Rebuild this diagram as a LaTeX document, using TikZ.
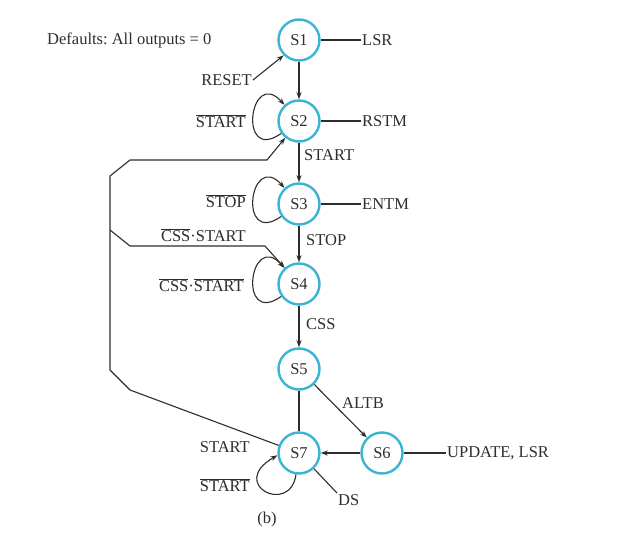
\documentclass[tikz,border=0pt]{standalone}
\usepackage{fontspec}
\setmainfont{Liberation Serif}
\usetikzlibrary{arrows.meta}
\definecolor{stcyan}{RGB}{58,180,212}
\definecolor{ink}{RGB}{45,45,45}
\frenchspacing

\begin{document}
\begin{tikzpicture}[x=1pt,y=1pt,font=\fontsize{16.5}{19}\selectfont,color=ink,
    stcircle/.style={circle,draw=stcyan,line width=2.4pt,minimum size=41pt,inner sep=0pt,text=ink},
    lbl/.style={inner sep=1pt},
    tr/.style={line width=1.1pt,line join=round,-{Stealth[length=7pt,width=5pt]}},
    ln/.style={line width=1.1pt,line join=round}]
    \useasboundingbox (0,0) rectangle (628,542);

    % Define states
    \node[stcircle] (S1) at (299,502) {S1};
    \node[stcircle] (S2) at (299,421) {S2};
    \node[stcircle] (S3) at (299,338) {S3};
    \node[stcircle] (S4) at (299,258) {S4};
    \node[stcircle] (S5) at (299,173) {S5};
    \node[stcircle] (S7) at (299,89) {S7};
    \node[stcircle] (S6) at (382,89) {S6};

    % Add outputs
    \node[lbl,anchor=west] at (46,502) {Defaults: All outputs = 0};
    \node[lbl,anchor=west] (LSR) at (361,502) {LSR};
    \node[lbl,anchor=west] (RSTM) at (361,421) {RSTM};
    \node[lbl,anchor=west] (ENTM) at (361,338) {ENTM};
    \node[lbl,anchor=west] (UPD) at (446,89) {UPDATE, LSR};
    \node[lbl,anchor=north west] (DS) at (337,49) {DS};
    \draw[ln] (S1) -- (LSR);
    \draw[ln] (S2) -- (RSTM);
    \draw[ln] (S3) -- (ENTM);
    \draw[ln] (S6) -- (UPD);
    \draw[ln] (S7) -- (DS.north west);

    % Draw transitions
    \node[lbl,anchor=east] (RESET) at (253,462) {RESET};
    \draw[tr] (RESET.east) -- (S1.225);
    \draw[tr] (S1) -- (S2);
    \draw[tr] (S2) -- (S3);
    \draw[tr] (S3) -- (S4);
    \draw[tr] (S4) -- (S5);
    \draw[tr] (S5) -- (S6);
    \draw[tr] (S6) -- (S7);
    \draw[ln] (S5) -- (S7);

    % Draw self loops
    \draw[tr] (S2.215) .. controls +(215:54) and +(132:52) .. (S2.132);
    \draw[tr] (S3.215) .. controls +(215:54) and +(132:52) .. (S3.132);
    \draw[tr] (S4.215) .. controls +(215:54) and +(132:52) .. (S4.132);
    \draw[tr] (S7.262) .. controls +(262:42) and +(210:58) .. (S7.186);

    % Draw return paths
    \coordinate (b1) at (130,152); \coordinate (b2) at (110,172); \coordinate (b3) at (110,312); \coordinate (b4) at (110,366);
    \coordinate (b5) at (130,382); \coordinate (b6) at (267,382); \coordinate (b7) at (130,296); \coordinate (b8) at (265,296);
    \draw[tr] (S7) -- (b1) -- (b2) -- (b4) -- (b5) -- (b6) -- (S2);
    \draw[tr] (b3) -- (b7) -- (b8) -- (S4);

    % Add transition labels
    \node[lbl,anchor=east] at (247,421) {$\overline{\mbox{START}}$};
    \node[lbl,anchor=west] at (303,387) {START};
    \node[lbl,anchor=east] at (247,341) {$\overline{\mbox{STOP}}$};
    \node[lbl,anchor=west] at (305,302) {STOP};
    \node[lbl,anchor=east] at (247,307) {$\overline{\mbox{CSS}}$\mbox{·}START};
    \node[lbl,anchor=east] at (245,257) {$\overline{\mbox{CSS}}$\mbox{·}$\overline{\mbox{START}}$};
    \node[lbl,anchor=west] at (305,218) {CSS};
    \node[lbl,anchor=west] at (341,139) {ALTB};
    \node[lbl,anchor=east] at (251,95) {START};
    \node[lbl,anchor=east] at (251,57) {$\overline{\mbox{START}}$};
    \node[lbl] at (267,22) {(b)};
\end{tikzpicture}
\end{document}
